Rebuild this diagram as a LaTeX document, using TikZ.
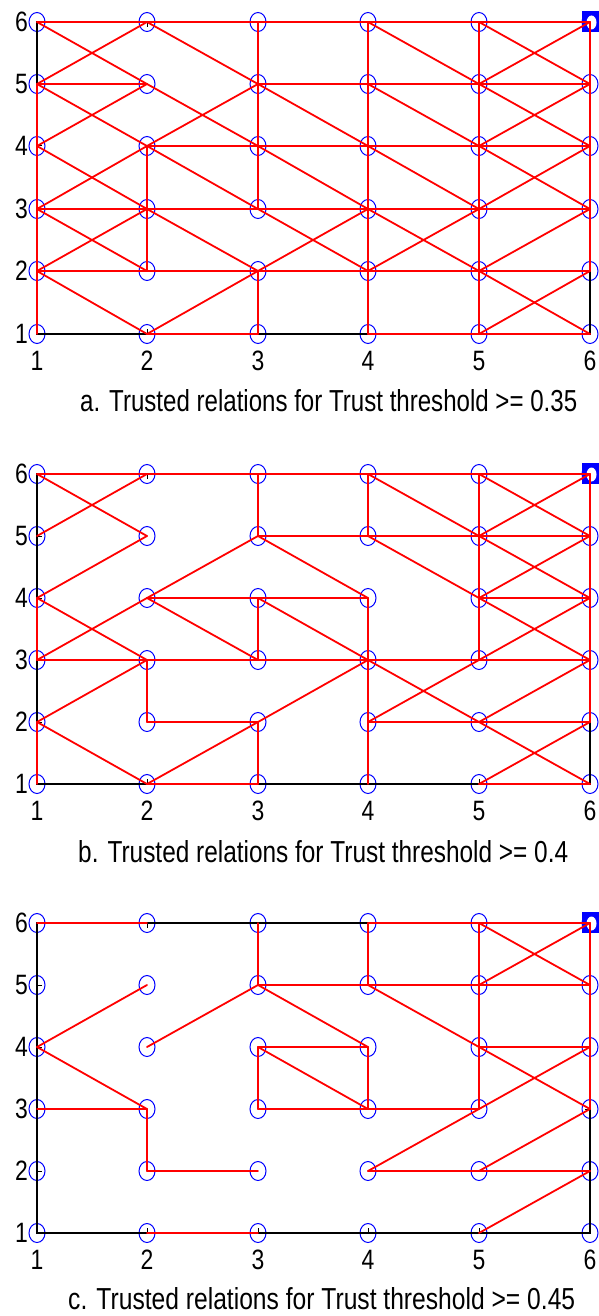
\documentclass[tikz,border=0pt]{standalone}
\usepackage{fontspec}
\setmainfont{Liberation Sans}
\usetikzlibrary{shapes.geometric}
\begin{document}
\begin{tikzpicture}[x=1pt,y=-1pt,
  mk/.style={ellipse,draw=blue,line width=1pt,minimum width=16pt,minimum height=19pt,inner sep=0pt},
  rl/.style={draw=red,line width=1.8pt,line cap=round},
  ax/.style={draw=black,line width=1.4pt},
  tickline/.style={draw=black,line width=1pt},
  lab/.style={inner sep=0pt,font=\fontsize{28}{28}\selectfont},
  captxt/.style={inner sep=0pt,anchor=base west}]
\useasboundingbox (0,0) rectangle (598,1316);
\fill[white] (0,0) rectangle (598,1316);

% grid nodes, frame, ticks and labels for the three panels
\foreach \p/\ysix/\yfive/\yfour/\ythree/\ytwo/\yone in
   {a/22/84/146/209/271/334,b/474/536/598/660/722/784,c/923/985/1047/1109/1171/1233} {
  \foreach \i/\xx in {1/37,2/147,3/258,4/368,5/479,6/590} {
    \foreach \j/\yy in {6/\ysix,5/\yfive,4/\yfour,3/\ythree,2/\ytwo,1/\yone} {
      \node[mk] (\p\i\j) at (\xx,\yy) {};
    }
  }
  \draw[ax] (\p16.center) rectangle (\p61.center);
  \foreach \k in {1,...,6} {
    \draw[tickline] (\p\k1.center) -- ++(0,-5);
    \draw[tickline] (\p\k6.center) -- ++(0,5);
    \draw[tickline] (\p1\k.center) -- ++(5,0);
    \draw[tickline] (\p6\k.center) -- ++(-5,0);
    \node[lab,anchor=east] (\p-ylab\k) at ([xshift=-9pt]\p1\k.center) {\scalebox{0.82}[1]{\k}};
    \node[lab,anchor=north] (\p-xlab\k) at ([yshift=-17pt]\p\k1.center) {\scalebox{0.82}[1]{\k}};
  }
  \fill[blue] ([shift={(-8,-11)}]\p66.center) rectangle ([shift={(9,10)}]\p66.center);
  \fill[white] ([shift={(1.5,0.5)}]\p66.center) ellipse (5 and 7);
}

% panel a
\foreach \ia/\ja/\ib/\jb in {1/6/2/6,2/6/3/6,3/6/4/6,4/6/5/6,5/6/6/6,
  1/5/2/5,3/5/4/5,4/5/5/5,5/5/6/5,
  2/4/3/4,3/4/4/4,4/4/5/4,5/4/6/4,
  1/3/2/3,2/3/3/3,3/3/4/3,4/3/5/3,5/3/6/3,
  1/2/2/2,2/2/3/2,3/2/4/2,4/2/5/2,5/2/6/2,
  2/1/3/1,4/1/5/1,5/1/6/1,
  1/5/1/4,1/4/1/3,1/3/1/2,1/2/1/1,
  2/4/2/3,2/3/2/2,
  3/6/3/5,3/5/3/4,3/4/3/3,3/2/3/1,
  4/6/4/5,4/5/4/4,4/4/4/3,4/3/4/2,4/2/4/1,
  5/6/5/5,5/5/5/4,5/4/5/3,5/3/5/2,5/2/5/1,
  6/6/6/5,6/5/6/4,6/4/6/3,6/3/6/2,
  1/6/2/5,1/5/2/6,2/6/3/5,4/6/5/5,5/6/6/5,5/5/6/6,
  1/5/2/4,1/4/2/5,2/5/3/4,2/4/3/5,3/5/4/4,4/5/5/4,5/5/6/4,5/4/6/5,
  1/4/2/3,1/3/2/4,2/4/3/3,3/4/4/3,4/4/5/3,5/4/6/3,5/3/6/4,
  1/3/2/2,1/2/2/3,2/3/3/2,3/3/4/2,3/2/4/3,4/3/5/2,4/2/5/3,5/2/6/3,
  1/2/2/1,2/1/3/2,5/2/6/1,5/1/6/2}
  \draw[rl] (a\ia\ja.center) -- (a\ib\jb.center);

% panel b
\foreach \ia/\ja/\ib/\jb in {1/6/2/6,2/6/3/6,3/6/4/6,4/6/5/6,5/6/6/6,
  3/5/4/5,4/5/5/5,5/5/6/5,
  2/4/3/4,3/4/4/4,5/4/6/4,
  1/3/2/3,2/3/3/3,3/3/4/3,4/3/5/3,5/3/6/3,
  2/2/3/2,4/2/5/2,5/2/6/2,
  2/1/3/1,5/1/6/1,
  1/4/1/3,1/2/1/1,2/3/2/2,3/6/3/5,3/4/3/3,3/2/3/1,4/6/4/5,
  4/4/4/3,4/3/4/2,4/2/4/1,
  5/6/5/5,5/5/5/4,5/4/5/3,
  6/6/6/5,6/5/6/4,6/4/6/3,6/3/6/2,
  1/6/2/5,1/5/2/6,4/6/5/5,5/6/6/5,5/5/6/6,
  1/4/2/5,2/4/3/5,3/5/4/4,4/5/5/4,5/5/6/4,5/4/6/5,
  1/4/2/3,1/3/2/4,2/4/3/3,3/4/4/3,5/4/6/3,5/3/6/4,
  1/2/2/3,3/2/4/3,4/3/5/2,4/2/5/3,5/2/6/3,
  1/2/2/1,2/1/3/2,5/2/6/1,5/1/6/2}
  \draw[rl] (b\ia\ja.center) -- (b\ib\jb.center);

% panel c
\foreach \ia/\ja/\ib/\jb in {1/6/2/6,4/6/5/6,5/6/6/6,
  3/5/4/5,4/5/5/5,5/5/6/5,
  3/4/4/4,5/4/6/4,
  1/3/2/3,3/3/4/3,4/3/5/3,
  2/2/3/2,4/2/5/2,5/2/6/2,
  2/1/3/1,
  2/3/2/2,3/6/3/5,3/4/3/3,4/6/4/5,4/4/4/3,
  5/6/5/5,5/5/5/4,5/4/5/3,
  6/6/6/5,6/5/6/4,6/4/6/3,
  5/6/6/5,5/5/6/6,1/4/2/5,2/4/3/5,3/5/4/4,4/5/5/4,1/4/2/3,3/4/4/3,5/4/6/3,5/3/6/4,
  4/2/5/3,5/2/6/3,5/1/6/2}
  \draw[rl] (c\ia\ja.center) -- (c\ib\jb.center);

% captions
\node[captxt] (capa) at (80,411) {\resizebox{497pt}{22pt}{\fontsize{28}{28}\selectfont a. Trusted relations for Trust threshold >= 0.35}};
\node[captxt] (capb) at (78,862) {\resizebox{490pt}{22pt}{\fontsize{28}{28}\selectfont b. Trusted relations for Trust threshold >= 0.4}};
\node[captxt] (capc) at (68,1309) {\resizebox{507pt}{22pt}{\fontsize{28}{28}\selectfont c. Trusted relations for Trust threshold >= 0.45}};
\end{tikzpicture}
\end{document}
